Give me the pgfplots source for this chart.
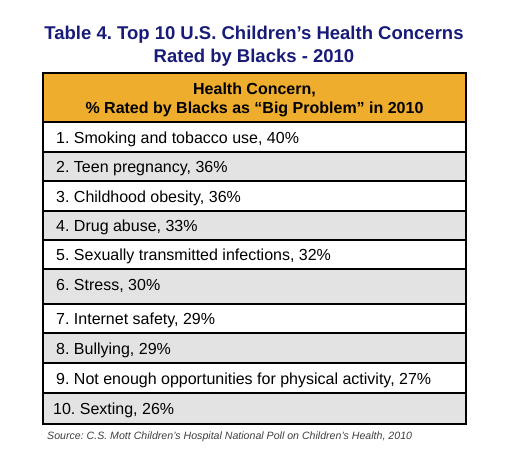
\documentclass[border=0pt]{standalone}
\usepackage{fontspec}
\setmainfont{Liberation Sans}
\usepackage{pgfplots}
\usepackage{pgfplotstable}
\pgfplotsset{compat=1.18}
\frenchspacing
\definecolor{titleblue}{RGB}{24,28,120}
\definecolor{headorange}{RGB}{239,173,45}
\definecolor{rowgray}{RGB}{227,227,227}
\definecolor{srcgray}{RGB}{64,64,64}
\pgfplotstableread[col sep=semicolon]{
rank;name;pct;x;y
1;Smoking and tobacco use;40;56;143
2;Teen pregnancy;36;56;172
3;Childhood obesity;36;56;202
4;Drug abuse;33;56;231
5;Sexually transmitted infections;32;56;260
6;Stress;30;56;290
7;Internet safety;29;56;324
8;Bullying;29;56;354
9;Not enough opportunities for physical activity;27;56;384
10;Sexting;26;53;414
}\concerns
\begin{document}
\begin{tikzpicture}
\begin{axis}[
  width=518bp, height=472bp, scale only axis,
  xmin=0, xmax=518, ymin=0, ymax=472, y dir=reverse,
  hide axis, clip=false,
  /pgf/number format/assume math mode=true,
]
% background
\addplot[fill=white, draw=none] coordinates {(0,0)(518,0)(518,472)(0,472)} -- cycle;
% header
\addplot[fill=headorange, draw=none] coordinates {(43,73)(466,73)(466,122)(43,122)} -- cycle;
% gray rows
\addplot[fill=rowgray, draw=none] coordinates {(43,152)(466,152)(466,181)(43,181)} -- cycle;
\addplot[fill=rowgray, draw=none] coordinates {(43,211)(466,211)(466,240)(43,240)} -- cycle;
\addplot[fill=rowgray, draw=none] coordinates {(43,269)(466,269)(466,304)(43,304)} -- cycle;
\addplot[fill=rowgray, draw=none] coordinates {(43,333)(466,333)(466,363)(43,363)} -- cycle;
\addplot[fill=rowgray, draw=none] coordinates {(43,393)(466,393)(466,424)(43,424)} -- cycle;
% row lines
\pgfplotsinvokeforeach{122,152,181,211,240,269,304,333,363,393}{
  \addplot[black, line width=1.1bp] coordinates {(43,#1)(466,#1)};
}
% outer border
\addplot[black, line width=2.5bp] coordinates {(43,73)(466,73)(466,424)(43,424)} -- cycle;
% row labels
\addplot[only marks, mark=none,
  point meta=explicit symbolic,
  visualization depends on={\thisrow{rank}\as\rank},
  visualization depends on={\thisrow{pct}\as\pct},
  nodes near coords={\pgfmathprintnumber{\rank}.\ \pgfplotspointmeta, \pgfmathprintnumber{\pct}\%},
  every node near coord/.style={anchor=base west, inner sep=0pt, font=\fontsize{16bp}{18bp}\selectfont, text=black},
] table[x=x, y=y, meta=name] {\concerns};
% title
\node[anchor=base, text=titleblue, font=\fontsize{18.5bp}{20bp}\selectfont\bfseries] at (axis cs:254,40) {Table 4. Top 10 U.S. Children’s Health Concerns};
\node[anchor=base, text=titleblue, font=\fontsize{18.5bp}{20bp}\selectfont\bfseries] at (axis cs:254,63) {Rated by Blacks - 2010};
% header text
\node[anchor=base, font=\fontsize{16bp}{18bp}\selectfont\bfseries] at (axis cs:254.5,94) {Health Concern,};
\node[anchor=base, font=\fontsize{16bp}{18bp}\selectfont\bfseries] at (axis cs:254.5,113) {\% Rated by Blacks as “Big Problem” in 2010};
% source
\node[anchor=base west, inner sep=0pt, text=srcgray, font=\fontsize{10.6bp}{12bp}\selectfont\itshape] at (axis cs:47,439) {Source: C.S. Mott Children’s Hospital National Poll on Children’s Health, 2010};
\end{axis}
\end{tikzpicture}
\end{document}
